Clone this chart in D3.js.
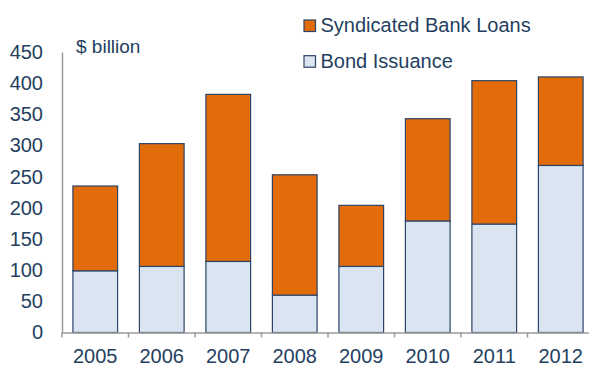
<!DOCTYPE html>
<html>
<head>
<meta charset="utf-8">
<script src="https://cdn.jsdelivr.net/npm/d3@7"></script>
<style>
  body { margin: 0; background: #fff; }
  svg text { font-family: "Liberation Sans", Arial, sans-serif; fill: #243F60; }
</style>
</head>
<body>
<div id="chart"></div>
<script>
// data
const years = ['2005', '2006', '2007', '2008', '2009', '2010', '2011', '2012']
const bondIssuance = [99, 106, 114, 60, 106, 179, 174, 268]
const bankLoans = [136, 197, 268, 193, 98, 164, 230, 142]
const yTicks = [0, 50, 100, 150, 200, 250, 300, 350, 400, 450]
const seriesNames = ['Syndicated Bank Loans', 'Bond Issuance']

const width = 589
const height = 366
const margin = {top: 52, right: -5, bottom: 33.5, left: 62}
const colors = {loans: '#E36C0A', bond: '#DBE5F1', stroke: '#2B4468', text: '#243F60'}

const rows = years.map((y, i) => ({year: y, bond: bondIssuance[i], loans: bankLoans[i]}))
const stack = d3.stack().keys(['bond', 'loans'])(rows)

const svg = d3.select('#chart')
    .append('svg')
    .attr('width', width)
    .attr('height', height)

const x = d3.scaleBand()
    .domain(years)
    .range([margin.left, width - margin.right])
    .paddingInner(0.328)
    .paddingOuter(0.164)

const y = d3.scaleLinear()
    .domain([0, 450])
    .range([height - margin.bottom, margin.top])

//bars
svg.append('g')
    .selectAll('g')
    .data(stack)
    .enter()
    .append('g')
    .attr('fill', (d) => d.key === 'bond' ? colors.bond : colors.loans)
    .selectAll('rect')
    .data((d) => d)
    .enter()
    .append('rect')
    .attr('x', (d) => x(d.data.year))
    .attr('y', (d) => y(d[1]))
    .attr('width', x.bandwidth())
    .attr('height', (d) => y(d[0]) - y(d[1]))
    .attr('stroke', colors.stroke)
    .attr('stroke-width', 1.2)

//y axis
const yAxis = d3.axisLeft(y)
    .tickValues(yTicks)
    .tickSize(0)
    .tickPadding(19)
const gy = svg.append('g')
    .attr('transform', `translate(${margin.left},0)`)
    .call(yAxis)
gy.select('.domain').attr('stroke', '#9a9a9a').attr('stroke-width', 1.5)
gy.selectAll('text')
    .style('font-size', '20px')
    .attr('fill', colors.text)

//x axis
const gx = svg.append('g')
    .attr('transform', `translate(0,${y(0)})`)
    .call(d3.axisBottom(x).tickSize(0).tickPadding(16))
gx.select('.domain').attr('stroke', '#9a9a9a').attr('stroke-width', 1.5)
gx.selectAll('text')
    .style('font-size', '20px')
    .attr('fill', colors.text)
gx.selectAll('.boundary')
    .data(years)
    .enter()
    .append('line')
    .attr('class', 'boundary')
    .attr('x1', (d) => x(d) - x.step() * x.paddingInner() / 2)
    .attr('x2', (d) => x(d) - x.step() * x.paddingInner() / 2)
    .attr('y1', 0)
    .attr('y2', 5)
    .attr('stroke', '#9a9a9a')
    .attr('stroke-width', 1.5)

//unit label
svg.append('text')
    .attr('x', 76)
    .attr('y', 53)
    .style('font-size', '19px')
    .text('$ billion')

//legend
const legend = svg.append('g')
    .selectAll('g')
    .data(seriesNames)
    .enter()
    .append('g')
    .attr('transform', (d, i) => `translate(304,${20 + i * 35.7})`)
legend.append('rect')
    .attr('width', 11.5)
    .attr('height', 11.5)
    .attr('fill', (d, i) => i === 0 ? colors.loans : colors.bond)
    .attr('stroke', colors.stroke)
    .attr('stroke-width', 1.2)
legend.append('text')
    .attr('x', 16.5)
    .attr('y', 12.3)
    .style('font-size', '20px')
    .text((d) => d)
</script>
</body>
</html>
